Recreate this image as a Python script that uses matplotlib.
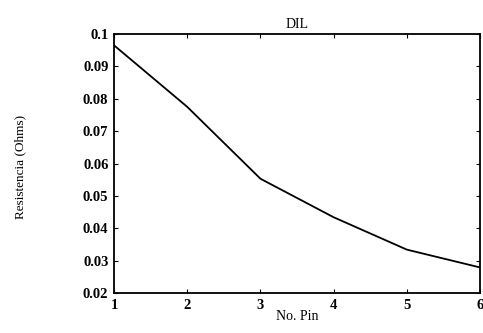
import matplotlib
matplotlib.use("Agg")
import matplotlib.pyplot as plt

pins = [1, 2, 3, 4, 5, 6]
resistencia = [0.0965, 0.0775, 0.0553, 0.0434, 0.0334, 0.0279]

plt.rcParams["font.family"] = "Liberation Serif"

fig = plt.figure(figsize=(4.83, 3.33), dpi=100)
ax = fig.add_axes([0.236, 0.12, 0.758, 0.778])
ax.plot(pins, resistencia, color="black", linewidth=1.3)

ax.set_xlim(1, 6)
ax.set_ylim(0.02, 0.1)
ax.set_xticks(pins)
ax.set_yticks([0.02, 0.03, 0.04, 0.05, 0.06, 0.07, 0.08, 0.09, 0.1])
ax.set_yticklabels(["0.02", "0.03", "0.04", "0.05", "0.06", "0.07", "0.08", "0.09", "0.1"])
ax.tick_params(direction="in", length=3, labelsize=10.5, top=True, right=True, pad=4)
for lbl in ax.get_xticklabels() + ax.get_yticklabels():
    lbl.set_fontweight("bold")
for s in ax.spines.values():
    s.set_linewidth(1.3)

ax.set_title("DIL", fontsize=10, pad=4)
ax.set_xlabel("No. Pin", fontsize=10, labelpad=-1)
fig.text(0.042, 0.5, "Resistencia (Ohms)", rotation=90, fontsize=9.5,
         ha="center", va="center")

fig.savefig("out.png", dpi=100)
